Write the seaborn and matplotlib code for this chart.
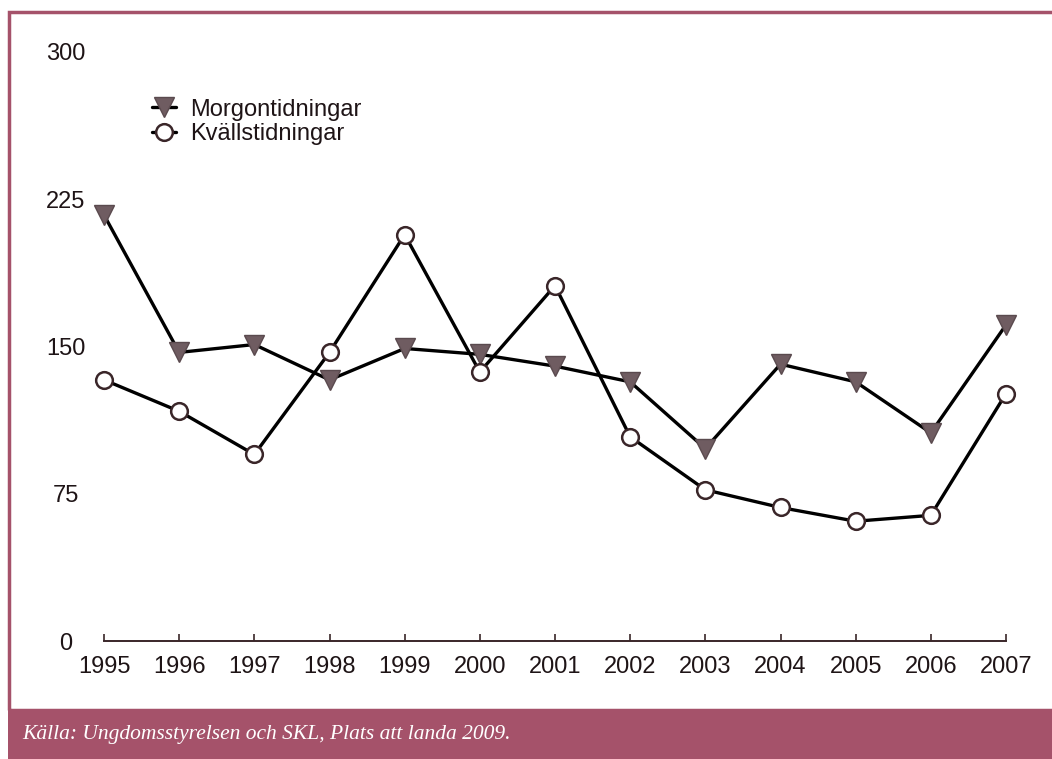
import pandas as pd
import seaborn as sns
import matplotlib.pyplot as plt
from matplotlib.patches import Rectangle

years = list(range(1995, 2008))
morgon = [217, 147, 151, 133, 149, 146, 140, 132, 98, 141, 132, 106, 161]
kvall = [133, 117, 95, 147, 207, 137, 181, 104, 77, 68, 61, 64, 126]
yticks = [0, 75, 150, 225, 300]
caption = "Källa: Ungdomsstyrelsen och SKL, Plats att landa 2009."

sns.set_style("white")
plt.rcParams["font.family"] = ["Liberation Sans", "DejaVu Sans"]

rose = "#a5526a"
ink = "#1e1416"

fig = plt.figure(figsize=(10.52, 7.59), dpi=100)
ax = fig.add_axes([104 / 1052, 1 - 641 / 759, (1006 - 104) / 1052, (641 - 52) / 759])

df = pd.DataFrame({"year": years, "Morgontidningar": morgon, "Kvällstidningar": kvall})

sns.lineplot(data=df, x="year", y="Morgontidningar", ax=ax, color="black", lw=2.4,
             marker="v", markersize=14.5, markerfacecolor="#6f5c61",
             markeredgecolor="#5a4a4e", markeredgewidth=1, label="Morgontidningar",
             clip_on=False)
sns.lineplot(data=df, x="year", y="Kvällstidningar", ax=ax, color="black", lw=2.4,
             marker="o", markersize=12, markerfacecolor="white",
             markeredgecolor="#3a2629", markeredgewidth=1.8, label="Kvällstidningar",
             clip_on=False)

ax.set_xlim(1995, 2007)
ax.set_ylim(0, 300)
ax.set_xticks(years)
ax.set_yticks(yticks)
ax.set_xlabel("")
ax.set_ylabel("")
for s in ["left", "top", "right"]:
    ax.spines[s].set_visible(False)
ax.spines["bottom"].set_color("#3a2629")
ax.spines["bottom"].set_linewidth(1.4)
ax.spines["bottom"].set_zorder(0)
ax.tick_params(axis="x", bottom=True, direction="in", length=5, width=1.2,
               color="#3a2629", pad=11, labelsize=17, labelcolor=ink)
ax.tick_params(axis="y", left=False, length=0, pad=3, labelsize=17, labelcolor=ink)
for t in ax.get_yticklabels():
    t.set_horizontalalignment("center")
    t.set_x(-0.038)

leg = ax.legend(loc="upper left", bbox_to_anchor=(0.03, 0.957), frameon=False,
                fontsize=17, handlelength=1.0, handletextpad=0.6, labelspacing=0.1)
for t in leg.get_texts():
    t.set_color(ink)

# frame and caption band
fig.patches.append(Rectangle((9 / 1052, 1 - 710 / 759), 1.0, (710 - 12) / 759,
                             transform=fig.transFigure, fill=False,
                             edgecolor=rose, lw=2.5, zorder=-1))
fig.patches.append(Rectangle((8 / 1052, 0), 1.0, 1 - 710 / 759,
                             transform=fig.transFigure, facecolor=rose,
                             edgecolor="none", zorder=-1))
fig.text(22 / 1052, 1 - 735 / 759, caption, color="white", fontsize=15.5,
         style="italic", family=["Liberation Serif", "DejaVu Serif"], va="center")

fig.savefig("out.png", dpi=100, facecolor="white")
